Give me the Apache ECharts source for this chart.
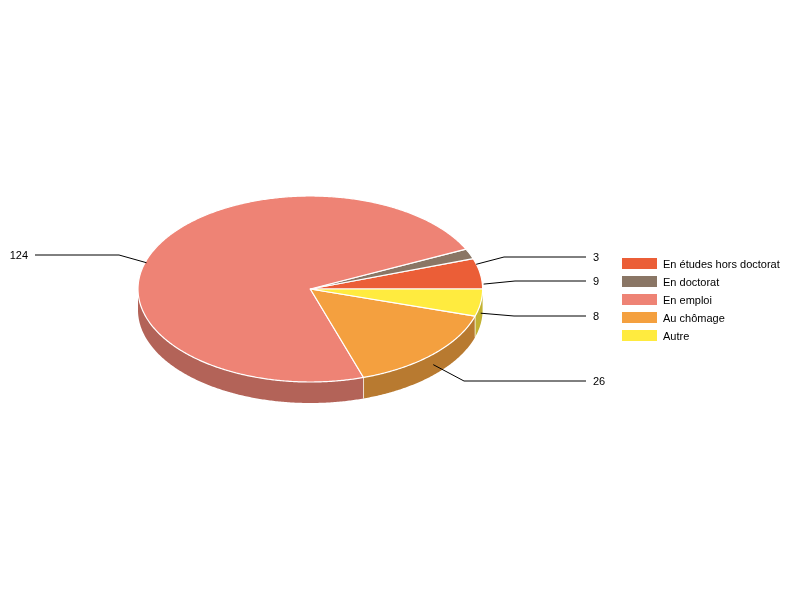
<!DOCTYPE html>
<html><head><meta charset="utf-8">
<style>html,body{margin:0;padding:0;background:#fff}#c{width:800px;height:600px}</style>
<script src="https://cdn.jsdelivr.net/npm/echarts@6/dist/echarts.min.js"></script>
</head><body><div id="c"></div>
<script>
const categories = ['En études hors doctorat','En doctorat','En emploi','Au chômage','Autre'];
const values = [9,3,124,26,8];
const colors = ['#EB5E37','#8A7665','#EE8375','#F4A03F','#FFEB3F'];
const wallColors = ['#B04629','#67584C','#B36358','#B87A30','#C2B232'];
// label placement only (not data)
const labelY = [281,257,255,381,316];
const elbowX = [515,504,119,464,514];
const leaderReach = [1.02,1.04,1.035,1.0,1.0];

const cx = 310.3, cy = 289, rx = 172.3, ry = 93, depth = 21;
const labelEdgeR = 586, labelEdgeL = 35;
const total = values.reduce((a,b)=>a+b,0);
const rad = d => d*Math.PI/180;
const pt = (deg,dy,k) => [cx+rx*(k||1)*Math.cos(rad(deg)), cy+(dy||0)-ry*Math.sin(rad(deg))];
const arc = (a,b,dy) => { const p=[]; const n=Math.max(2,Math.ceil(Math.abs(b-a)/0.5));
  for(let i=0;i<=n;i++) p.push(pt(a+(b-a)*i/n,dy)); return p; };

function renderItem(params, api){
  const idx = params.seriesIndex;
  const before = values.slice(0,idx).reduce((a,b)=>a+b,0);
  const start = before/total*360, end = (before+api.value(0))/total*360, mid=(start+end)/2;
  const children = [];
  const wa = Math.max(start,180), wb = Math.min(end,360);
  if (wb>wa) {
    children.push({type:'polygon',shape:{points:arc(wa,wb,0).concat(arc(wb,wa,depth))},
      style:{fill:wallColors[idx],stroke:null}});
  }
  if (start>180 && start<360) {
    children.push({type:'line',shape:{x1:pt(start)[0],y1:pt(start)[1],x2:pt(start)[0],y2:pt(start)[1]+depth},
      style:{stroke:'#fff',lineWidth:1,opacity:0.7}});
  }
  children.push({type:'polygon',shape:{points:[[cx,cy]].concat(arc(start,end,0))},
    style:{fill:colors[idx],stroke:'#fff',lineWidth:1.2,lineJoin:'round'}});
  const s = pt(mid,depth/2,leaderReach[idx]);
  const right = Math.cos(rad(mid))>0;
  const endX = right?labelEdgeR:labelEdgeL, y=labelY[idx];
  children.push({type:'polyline',z2:10,shape:{points:[s,[elbowX[idx],y],[endX,y]]},
    style:{stroke:'#000',lineWidth:1,fill:null}});
  children.push({type:'text',z2:10,style:{text:String(api.value(0)),x:right?endX+7:endX-7,y:y+1,
    align:right?'left':'right',verticalAlign:'middle',fill:'#000',
    font:'11px "Liberation Sans", Arial, sans-serif'}});
  return {type:'group',children};
}

const chart = echarts.init(document.getElementById('c'),null,{renderer:'canvas'});
chart.setOption({
  animation:false,
  backgroundColor:'#fff',
  legend:{orient:'vertical',left:622,top:258,padding:0,itemWidth:35,itemHeight:11,itemGap:6,
    selectedMode:false,icon:'rect',data:categories,
    formatter:'{a|{name}}',
    textStyle:{color:'#000',fontSize:11,fontFamily:'"Liberation Sans", Arial, sans-serif',
      rich:{a:{color:'#000',fontSize:11,fontFamily:'"Liberation Sans", Arial, sans-serif',padding:[2,0,0,1]}}}},
  series:categories.map((n,i)=>({type:'custom',name:n,coordinateSystem:'none',silent:true,
    itemStyle:{color:colors[i]},data:[[values[i]]],renderItem,clip:false}))
});
</script></body></html>
